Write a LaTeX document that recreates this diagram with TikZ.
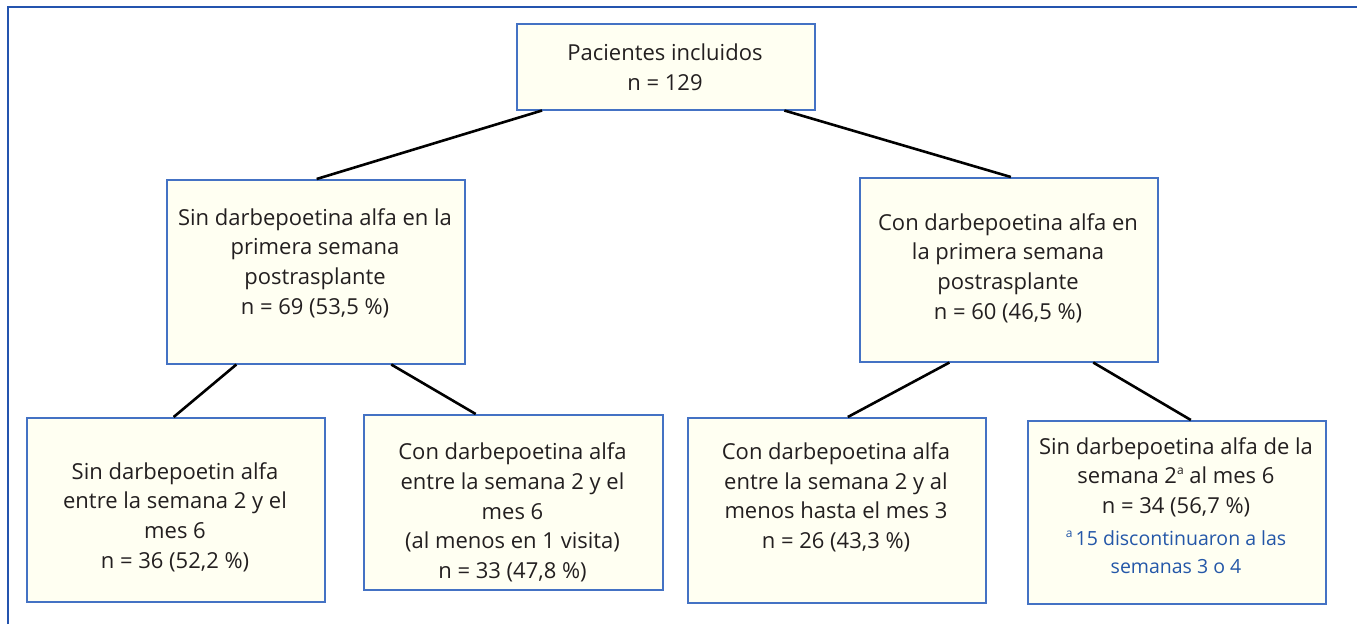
\documentclass[tikz,border=0pt]{standalone}
\usepackage{fontspec}
\setmainfont{Open Sans}
\usetikzlibrary{calc}
\definecolor{boxfill}{HTML}{FFFFF2}
\definecolor{boxline}{HTML}{4472C4}
\definecolor{frameblue}{HTML}{2454AE}
\definecolor{txt}{HTML}{231F20}
\definecolor{fnblue}{HTML}{2457A8}
\newcommand{\supa}{\raisebox{0.42em}{\fontsize{12}{12}\selectfont a}}
\tikzset{
  flowbox/.style={draw=boxline, fill=boxfill, line width=1.5pt, rectangle, inner sep=0pt, anchor=north west},
  boxtext/.style={align=center, inner sep=0pt, text=txt, font=\fontsize{22}{29.6}\selectfont},
  notetext/.style={align=center, inner sep=0pt, text=fnblue, font=\fontsize{19.5}{28}\selectfont},
  link/.style={draw=black, line width=2.6pt}
}
\begin{document}
\begin{tikzpicture}[x=1pt,y=-1pt]
\useasboundingbox (0,0) rectangle (1357,624);
% outer frame (top and left)
\draw[frameblue, line width=2.2pt] (8.3,624) -- (8.3,7) -- (1357,7);

% boxes
\node[flowbox, minimum width=298pt, minimum height=86pt]  (top) at (516,23) {};
\node[flowbox, minimum width=298pt, minimum height=184pt] (ml)  at (166,179) {};
\node[flowbox, minimum width=298pt, minimum height=184pt] (mr)  at (859,177) {};
\node[flowbox, minimum width=298pt, minimum height=184pt] (b1)  at (26,417) {};
\node[flowbox, minimum width=299pt, minimum height=175pt] (b2)  at (363,414) {};
\node[flowbox, minimum width=298pt, minimum height=185pt] (b3)  at (687,417) {};
\node[flowbox, minimum width=298pt, minimum height=183pt] (b4)  at (1027,420) {};

% texts
\node[boxtext] (t0) at (665,67) {Pacientes incluidos\\n = 129};
\node[boxtext] (t1) at (315,263) {Sin darbepoetina alfa en la\\primera semana\\postrasplante\\n = 69 (53,5~\%)};
\node[boxtext] (t2) at (1008,268) {Con darbepoetina alfa en\\la primera semana\\postrasplante\\n = 60 (46,5~\%)};
\node[boxtext] (t3) at (175,517) {Sin darbepoetin alfa\\entre la semana 2 y el\\mes 6\\n = 36 (52,2~\%)};
\node[boxtext] (t4) at (512.5,512.5) {Con darbepoetina alfa\\entre la semana 2 y el\\mes 6\\(al menos en 1 visita)\\n = 33 (47,8~\%)};
\node[boxtext] (t5) at (836,497.5) {Con darbepoetina alfa\\entre la semana 2 y al\\menos hasta el mes 3\\n = 26 (43,3~\%)};
\node[boxtext] (t6) at (1176,477) {Sin darbepoetina alfa de la\\semana 2\supa{} al mes 6\\n = 34 (56,7~\%)};
\node[notetext] (t7) at (1176,552) {\supa\,15 discontinuaron a las\\semanas 3 o 4};

% connectors
\draw[link] ($(top.south west)!0.087!(top.south east)$) -- ($(ml.north west)!0.503!(ml.north east)$);
\draw[link] ($(top.south west)!0.896!(top.south east)$) -- ($(mr.north west)!0.507!(mr.north east)$);
\draw[link] ($(ml.south west)!0.235!(ml.south east)$) -- ($(b1.north west)!0.493!(b1.north east)$);
\draw[link] ($(ml.south west)!0.752!(ml.south east)$) -- ($(b2.north west)!0.375!(b2.north east)$);
\draw[link] ($(mr.south west)!0.302!(mr.south east)$) -- ($(b3.north west)!0.537!(b3.north east)$);
\draw[link] ($(mr.south west)!0.782!(mr.south east)$) -- ($(b4.north west)!0.547!(b4.north east)$);
\end{tikzpicture}
\end{document}
